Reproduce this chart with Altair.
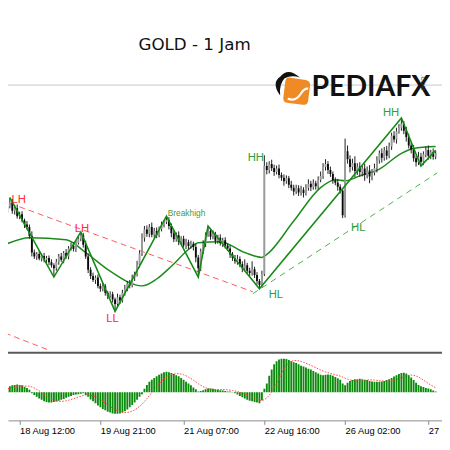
import altair as alt
import pandas as pd

# ---------------- data ----------------
first_open = 1537.0
closes = [
    1537.5, 1538.8, 1539.6, 1537.9, 1538.4, 1536.8, 1537.2, 1535.9, 1535.1, 1534.6,
    1532.8, 1529.4, 1528.6, 1529.1, 1528.2, 1528.7, 1527.9, 1528.3, 1527.4, 1526.8,
    1526.2, 1527.5, 1528.6, 1527.9, 1529.3, 1528.6, 1530.2, 1530.8, 1530.1, 1531.4,
    1532.2, 1532.9, 1531.0, 1528.6, 1525.9, 1524.6, 1523.8, 1524.3, 1522.6, 1522.0,
    1522.5, 1521.2, 1520.6, 1520.9, 1519.8, 1518.9, 1520.3, 1519.6, 1521.2, 1522.0,
    1523.1, 1522.7, 1524.3, 1525.0, 1526.9, 1529.2, 1532.4, 1534.1, 1533.2, 1534.6,
    1533.0, 1533.8, 1532.9, 1534.2, 1535.1, 1535.6, 1536.0, 1534.8, 1533.3, 1532.1,
    1532.9, 1531.6, 1532.2, 1530.9, 1531.5, 1530.7, 1531.2, 1530.5, 1528.4, 1526.2,
    1529.6, 1531.2, 1533.0, 1533.8, 1532.6, 1533.1, 1531.8, 1532.4, 1531.3, 1531.9,
    1530.8, 1530.2, 1529.0, 1528.3, 1527.6, 1528.1, 1527.0, 1526.2, 1526.8, 1525.7,
    1525.2, 1526.0, 1524.8, 1523.6, 1522.8, 1525.0, 1547.0, 1546.2, 1547.4, 1546.6,
    1545.8, 1546.5, 1545.2, 1544.6, 1543.9, 1544.5, 1543.2, 1542.6, 1541.8, 1542.5,
    1541.6, 1542.2, 1541.5, 1542.6, 1543.4, 1542.7, 1543.5, 1542.9, 1544.2, 1545.0,
    1546.8, 1547.4, 1546.2, 1545.4, 1544.1, 1543.6, 1542.8, 1542.0, 1537.0, 1550.0,
    1548.4, 1546.8, 1547.6, 1546.0, 1546.9, 1545.8, 1546.5, 1545.2, 1546.1, 1544.9,
    1545.7, 1546.6, 1548.2, 1549.6, 1548.7, 1550.2, 1549.1, 1551.0, 1553.2, 1552.4,
    1554.1, 1554.8, 1555.6, 1554.2, 1552.9, 1551.2, 1550.4, 1548.6, 1547.8, 1548.9,
    1547.9, 1549.4, 1550.3, 1549.1, 1549.8, 1548.9, 1549.6,
]
wick_up = [
    0.6, 0.5, 1.0, 0.7, 0.4, 0.8, 0.5, 0.6, 0.4, 0.7,
    0.5, 0.9, 0.6, 0.4, 0.7, 0.5, 0.6, 0.4, 0.5, 0.6,
    0.4, 0.6, 0.5, 0.7, 0.4, 0.8, 0.5, 0.6, 0.7, 0.5,
    0.6, 0.7, 0.5, 0.8, 0.6, 0.5, 0.7, 0.4, 0.6, 0.5,
    0.7, 0.5, 0.4, 0.6, 0.5, 0.4, 0.7, 0.5, 0.6, 0.8,
    0.5, 0.7, 0.6, 0.5, 0.8, 0.6, 0.9, 0.7, 0.8, 0.6,
    0.9, 0.6, 0.7, 0.5, 0.6, 0.4, 0.8, 0.6, 0.5, 0.7,
    0.6, 0.8, 0.5, 0.6, 0.7, 0.5, 0.6, 0.4, 0.7, 0.5,
    0.6, 0.7, 0.5, 1.0, 0.6, 0.8, 0.5, 0.6, 0.7, 0.5,
    0.6, 0.4, 0.7, 0.5, 0.6, 0.8, 0.5, 0.6, 1.2, 0.5,
    0.6, 1.6, 0.5, 0.6, 0.4, 0.7, 2.2, 0.8, 0.6, 0.9,
    0.7, 0.6, 0.8, 0.5, 0.7, 0.6, 0.5, 0.8, 0.6, 0.7,
    0.6, 0.8, 0.5, 0.7, 0.9, 0.6, 0.8, 0.5, 0.7, 0.9,
    0.8, 1.0, 0.6, 0.7, 0.5, 0.6, 0.8, 0.5, 0.4, 2.6,
    1.2, 0.8, 0.9, 1.4, 0.7, 0.9, 0.6, 1.0, 0.8, 1.1,
    0.7, 0.9, 0.8, 0.6, 1.0, 0.7, 0.9, 0.8, 0.6, 0.9,
    0.7, 0.8, 1.2, 0.6, 0.8, 0.7, 0.5, 0.9, 0.6, 1.0,
    0.8, 0.6, 0.7, 0.9, 0.5, 0.8, 0.6,
]
wick_dn = [
    0.5, 0.7, 0.4, 0.6, 0.8, 0.5, 0.6, 0.4, 0.7, 0.5,
    0.6, 0.8, 0.5, 0.7, 0.4, 0.6, 0.5, 0.7, 0.6, 0.5,
    1.8, 0.5, 0.6, 0.4, 0.7, 0.5, 0.6, 0.4, 0.5, 0.6,
    0.4, 0.5, 0.6, 0.5, 0.7, 0.6, 0.4, 0.8, 0.5, 0.6,
    0.5, 0.6, 0.7, 0.4, 0.6, 1.5, 0.5, 0.7, 0.4, 0.6,
    0.5, 0.6, 0.4, 0.7, 0.5, 0.6, 0.5, 0.8, 0.6, 0.7,
    0.5, 0.7, 0.6, 0.4, 0.5, 0.6, 0.4, 0.7, 0.8, 0.6,
    0.5, 0.7, 0.6, 0.5, 0.8, 0.6, 0.5, 0.7, 1.0, 1.8,
    0.6, 0.5, 0.7, 0.4, 0.6, 0.5, 0.7, 0.6, 0.5, 0.8,
    0.6, 0.5, 0.7, 0.6, 0.5, 0.7, 0.6, 0.8, 0.5, 0.6,
    0.7, 0.5, 0.6, 0.7, 0.8, 0.5, 0.4, 0.9, 0.7, 0.6,
    0.8, 0.5, 0.7, 0.6, 0.9, 0.5, 0.7, 0.6, 0.8, 0.5,
    0.7, 0.6, 0.9, 0.5, 0.6, 0.8, 0.5, 0.7, 0.6, 0.5,
    0.6, 0.7, 0.8, 0.6, 0.7, 0.5, 0.8, 0.6, 0.6, 0.5,
    0.9, 1.1, 0.7, 1.3, 0.8, 1.0, 0.9, 1.2, 0.7, 1.4,
    0.8, 0.6, 0.9, 0.7, 1.0, 0.6, 0.8, 0.5, 0.7, 0.6,
    0.8, 0.5, 0.6, 0.7, 0.9, 0.6, 0.8, 0.7, 0.9, 0.6,
    0.9, 0.7, 0.6, 0.8, 0.7, 0.6, 0.5,
]
macd = [
    0.3, 0.5, 0.7, 0.8, 0.85, 0.9, 0.85, 0.8, 0.65, 0.5, 0.3,
    -0.1, -0.3, -0.5, -0.7, -0.85, -1.0, -1.1, -1.15, -1.15, -1.1,
    -1.05, -0.95, -0.85, -0.75, -0.6, -0.5, -0.4, -0.3, -0.25, -0.2, -0.15,
    -0.1, -0.3, -0.5, -0.8, -1.0, -1.25, -1.5, -1.7, -1.9, -2.05,
    -2.2, -2.3, -2.4, -2.45, -2.45, -2.4, -2.3, -2.15, -1.95, -1.7,
    -1.45, -1.15, -0.85, -0.5, -0.2,
    0.4, 0.85, 1.2, 1.45, 1.65, 1.85, 2.0, 2.15, 2.3, 2.35, 2.3,
    2.2, 2.1, 1.95, 1.85, 1.65, 1.45, 1.2, 1.0, 0.8, 0.55, 0.35,
    0.1, 0.15, 0.25, 0.35, 0.45, 0.45, 0.4, 0.35, 0.3, 0.25, 0.2,
    0.15, 0.1, 0.1, 0.05, -0.1,
    -0.25, -0.4, -0.55, -0.7, -0.85, -0.95, -1.0, -1.1, -1.15, -1.25, -0.9,
    0.4, 1.0, 1.9, 2.6, 3.2, 3.55, 3.75, 3.85, 3.85, 3.8,
    3.7, 3.55, 3.45, 3.35, 3.2, 3.05, 2.95, 2.85, 2.7, 2.6,
    2.45, 2.3, 2.15, 2.0, 1.95, 2.0, 2.05, 2.0, 1.9, 1.75,
    1.6, 1.45, 1.0, 0.8, 1.1, 1.3, 1.4, 1.5, 1.5, 1.55,
    1.5, 1.45, 1.4, 1.3, 1.25, 1.2, 1.2, 1.2, 1.25, 1.3,
    1.4, 1.5, 1.65, 1.8, 1.95, 2.1, 2.2, 2.25, 2.15, 1.95,
    1.7, 1.4, 1.1, 0.85, 0.7, 0.6, 0.5, 0.45, 0.35, 0.2, 0.1,
]
ma_idx = [0, 10, 25, 33, 43, 56, 62, 68, 75, 79, 88, 98, 105, 107, 118, 129,
          135, 139, 145, 153, 162, 167, 176]
ma_val = [1531.0, 1532.4, 1532.0, 1529.4, 1525.6, 1522.6, 1524.0, 1526.6, 1530.0,
          1531.4, 1531.6, 1529.4, 1528.4, 1529.0, 1535.8, 1542.6, 1544.2, 1544.0,
          1545.0, 1546.4, 1549.6, 1550.6, 1551.0]
zz_idx = [2, 20, 31, 45, 66, 79, 83, 104, 162, 170, 176]
zz_val = [1540.6, 1524.4, 1533.6, 1517.4, 1536.8, 1524.4, 1534.8, 1522.0, 1556.8,
          1547.0, 1550.2]
red_tl_idx = [2.1, 101.3, 0.0, 18.5]
red_tl_val = [1539.4, 1521.4, 1513.0, 1509.4]
red_tl_grp = ["a", "a", "b", "b"]
green_tl_idx = [101.3, 176.6]
green_tl_val = [1521.0, 1545.6]
level_line = [1563.5]
bear_text = ["LH", "LH", "LL"]
bear_idx = [5.6, 31.5, 44.0]
bear_val = [1540.0, 1534.2, 1515.8]
bull_text = ["HH", "HL", "HL", "HH"]
bull_idx = [102.5, 110.7, 144.4, 157.8]
bull_val = [1548.6, 1520.8, 1534.4, 1557.8]
break_text = ["Breakhigh"]
break_idx = [74.2]
break_val = [1537.4]
tick_idx = [6, 39, 73, 106, 139, 173]
tick_labels = ["18 Aug 12:00", "19 Aug 21:00", "21 Aug 07:00", "22 Aug 16:00",
               "26 Aug 02:00", "27"]
title_text = "GOLD - 1 Jam"
logo_text = "PEDIAFX"
logo_sub = ".COM"

# ---------------- tables ----------------
n = len(closes)
opens = [first_open] + closes[:-1]
highs = [max(o, c) + w for o, c, w in zip(opens, closes, wick_up)]
lows = [min(o, c) - w for o, c, w in zip(opens, closes, wick_dn)]
candles = pd.DataFrame({
    "i": list(range(n)), "open": opens, "close": closes, "high": highs, "low": lows,
})
up_c = candles[candles["close"] >= candles["open"]]
dn_c = candles[candles["close"] < candles["open"]]
macd_df = pd.DataFrame({"i": list(range(len(macd))), "m": macd})
ma_df = pd.DataFrame({"i": ma_idx, "p": ma_val})
zz_df = pd.DataFrame({"i": zz_idx, "p": zz_val})
red_df = pd.DataFrame({"i": red_tl_idx, "p": red_tl_val, "g": red_tl_grp})
green_df = pd.DataFrame({"i": green_tl_idx, "p": green_tl_val})
lvl_df = pd.DataFrame({"p": level_line})
bear_df = pd.DataFrame({"i": bear_idx, "p": bear_val, "t": bear_text})
bull_df = pd.DataFrame({"i": bull_idx, "p": bull_val, "t": bull_text})
brk_df = pd.DataFrame({"i": break_idx, "p": break_val, "t": break_text})
one = pd.DataFrame({"a": [0]})

# ---------------- scales ----------------
W, H = 442, 416
xscale = alt.Scale(domain=[3.255, 176.59], nice=False, zero=False)
pscale = alt.Scale(domain=[1509.2, 1578.4], range=[346, 0], nice=False, zero=False)
mscale = alt.Scale(domain=[-3.2, 4.2], range=[416, 350], nice=False, zero=False)

label_expr = " : ".join(
    f"datum.value == {t} ? '{l}'" for t, l in zip(tick_idx, tick_labels)) + " : ''"
xaxis = alt.Axis(values=tick_idx, labelExpr=label_expr, title=None, grid=False,
                 domainColor="#8a8a8a", tickColor="#8a8a8a", tickSize=4,
                 labelAlign="left", labelFlush=False, labelOverlap=False,
                 labelPadding=1, labelFont="Liberation Sans", labelFontSize=9.5,
                 labelColor="#000000")


def X(f):
    return alt.X(f"{f}:Q", scale=xscale, axis=xaxis)


def PY(f):
    return alt.Y(f"{f}:Q", scale=pscale, axis=None)


lvl = alt.Chart(lvl_df).mark_rule(color="#c8c8c8", strokeWidth=1).encode(y=PY("p"))

red_tl = alt.Chart(red_df).mark_line(color="#ff5a5a", strokeWidth=1, strokeDash=[6, 4],
                                     clip=True).encode(x=X("i"), y=PY("p"), detail="g:N")
green_tl = alt.Chart(green_df).mark_line(color="#4caf4c", strokeWidth=1, strokeDash=[6, 5],
                                         clip=True).encode(x=X("i"), y=PY("p"))

ma = alt.Chart(ma_df).mark_line(color="#1a8c1a", strokeWidth=1.5, interpolate="monotone",
                                clip=True).encode(x=X("i"), y=PY("p"))

wicks = alt.Chart(candles).mark_rule(color="#1e1e1e", strokeWidth=1, clip=True).encode(
    x=X("i"), y=PY("low"), y2="high")
bodies_up = alt.Chart(up_c).mark_bar(size=1.9, clip=True, color="#9a9a9a").encode(
    x=X("i"), y=PY("open"), y2="close")
bodies_dn = alt.Chart(dn_c).mark_bar(size=1.9, clip=True, color="#0a0a0a").encode(
    x=X("i"), y=PY("open"), y2="close")

zz = alt.Chart(zz_df).mark_line(color="#138a13", strokeWidth=1.6, clip=True).encode(
    x=X("i"), y=PY("p"))

bear_lab = alt.Chart(bear_df).mark_text(font="Liberation Sans", fontSize=11.5,
                                        baseline="middle", color="#ff2e2e").encode(
    x=X("i"), y=PY("p"), text="t:N")
bull_lab = alt.Chart(bull_df).mark_text(font="Liberation Sans", fontSize=11.5,
                                        baseline="middle", color="#2f9e3a").encode(
    x=X("i"), y=PY("p"), text="t:N")
brk = alt.Chart(brk_df).mark_text(font="Liberation Sans", fontSize=8.5, color="#4a9a3a",
                                  baseline="middle").encode(x=X("i"), y=PY("p"), text="t:N")

title = alt.Chart(one).mark_text(text=title_text, font="DejaVu Sans", fontSize=17,
                                 color="#111111", baseline="middle").encode(
    x=alt.value(190), y=alt.value(34))

orange_path = ("M -0.55 -1 L 0.65 -0.82 Q 1 -0.76 0.96 -0.42 L 0.82 0.72 Q 0.76 1 0.42 0.96 "
               "L -0.72 0.82 Q -1 0.76 -0.96 0.42 L -0.82 -0.72 Q -0.78 -1 -0.55 -1 Z")
logo_orange = alt.Chart(one).mark_point(shape=orange_path, filled=True, color="#f08a24",
                                        opacity=1, size=800).encode(
    x=alt.value(294), y=alt.value(81))
curl_path = "M -0.9 0.55 Q -0.2 0.9 0.3 0.1 Q 0.6 -0.4 0.95 -0.35"
logo_curl = alt.Chart(one).mark_point(shape=curl_path, filled=False, stroke="#ffffff",
                                      strokeWidth=2.2, opacity=1, size=500).encode(
    x=alt.value(295), y=alt.value(82))
black_path = ("M -0.6 -0.45 Q 0 -1.25 0.95 -0.4 Q 0.3 -0.6 -0.25 -0.35 Q -0.7 0.1 -0.6 1 "
              "Q -1 0.5 -0.95 0.05 Q -0.9 -0.25 -0.6 -0.45 Z")
logo_black = alt.Chart(one).mark_point(shape=black_path, filled=True, color="#111111",
                                       opacity=1, size=680).encode(
    x=alt.value(285), y=alt.value(72))
logo_word = alt.Chart(one).mark_text(text=logo_text, font="Lato", fontWeight="bold",
                                     fontSize=29, color="#111111", align="left",
                                     baseline="alphabetic").encode(
    x=alt.value(309), y=alt.value(86))
logo_com = alt.Chart(one).mark_text(text=logo_sub, font="Liberation Sans", fontSize=6,
                                    color="#333333", angle=90, baseline="middle").encode(
    x=alt.value(423), y=alt.value(72))

sep = alt.Chart(one).mark_rule(color="#5a5a5a", strokeWidth=2).encode(y=alt.value(347))

hist = alt.Chart(macd_df).mark_bar(size=1.9, color="#0b8a0b", clip=True).encode(
    x=X("i"), y=alt.Y("m:Q", scale=mscale, axis=None), y2=alt.datum(0))
signal = alt.Chart(macd_df).transform_window(
    sig="mean(m)", frame=[-8, 0], sort=[alt.SortField("i")]
).mark_line(color="#ff4040", strokeWidth=1, strokeDash=[1.5, 1.5], clip=True).encode(
    x=X("i"), y=alt.Y("sig:Q", scale=mscale, axis=None))

chart = alt.layer(
    lvl, red_tl, green_tl, ma, wicks, bodies_up, bodies_dn, zz, bear_lab, bull_lab, brk,
    title, logo_orange, logo_curl, logo_black, logo_word, logo_com,
    hist, signal, sep,
).resolve_scale(y="independent").properties(
    width=W, height=H,
    autosize=alt.AutoSizeParams(type="none"),
    padding={"left": 0, "right": 0, "top": 0, "bottom": 18},
    background="#ffffff",
).configure_view(stroke=None)

chart.save("out.html", embed_options={"renderer": "svg", "actions": False})
